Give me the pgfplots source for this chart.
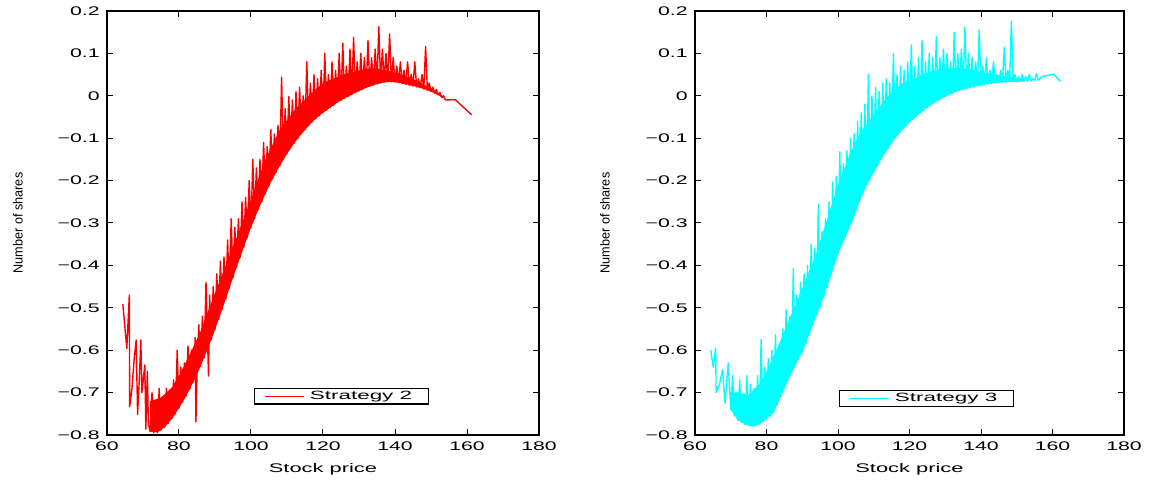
\documentclass[border=0pt]{standalone}
\usepackage{fontspec}
\setmainfont{Liberation Sans}
\usepackage{graphicx}
\usepackage{pgfplots}
\pgfplotsset{compat=1.18}
\definecolor{mred}{RGB}{255,0,0}
\definecolor{mcyan}{RGB}{0,255,255}
\newcommand{\sx}[1]{\scalebox{1.7}[1]{#1}}
\newcommand{\slab}[1]{\scalebox{1.75}[1]{#1}}
\newcommand{\sg}[1]{\scalebox{1.87}[1]{#1}}
\pgfplotsset{
  mystyle/.style={
    scale only axis, anchor=south west,
    height=212pt,
    xmin=60, xmax=180, ymin=-0.8, ymax=0.2,
    xtick={60,80,100,120,140,160,180},
    xticklabels={\sx{60},\sx{80},\sx{100},\sx{120},\sx{140},\sx{160},\sx{180}},
    ytick={-0.8,-0.7,-0.6,-0.5,-0.4,-0.3,-0.2,-0.1,0,0.1,0.2},
    yticklabels={\sx{−0.8},\sx{−0.7},\sx{−0.6},\sx{−0.5},\sx{−0.4},\sx{−0.3},\sx{−0.2},\sx{−0.1},\sx{0},\sx{0.1},\sx{0.2}},
    xtick pos=both, ytick pos=both, tick align=inside,
    major tick length=3pt,
    every tick/.style={black, line width=0.5pt},
    axis line style={line width=0.9pt},
    ticklabel style={font=\fontsize{6.25}{7}\selectfont},
    xticklabel style={inner sep=0pt, yshift=-3.3pt},
    yticklabel style={inner sep=0pt, xshift=-3.5pt},
    xlabel={\slab{Stock price}},
    xlabel style={at={(axis description cs:0.5,-0.08)}, anchor=center, font=\fontsize{6.25}{7}\selectfont},
    ylabel={\scalebox{0.96}[1]{Number of shares}},
    ylabel style={rotate=0, anchor=center, font=\fontsize{6.6}{7.5}\selectfont},
    legend style={at={(axis description cs:0.542,0.091)}, anchor=center, draw=black, line width=0.6pt,
      inner xsep=5pt, inner ysep=0pt, font=\fontsize{6}{7}\selectfont,
      nodes={inner xsep=3pt, inner ysep=1pt}},
    legend image code/.code={\draw[#1, line width=0.4pt] (0pt,0pt) -- (19.5pt,0pt);},
  }
}
\begin{document}
\begin{tikzpicture}
\path[use as bounding box] (0,0) rectangle (576pt,240pt);
\begin{axis}[mystyle, at={(53.5pt,22.5pt)}, width=216pt,
  ylabel style={at={(axis description cs:-0.206,0.5)}}]
\addplot[draw=none, fill=mred, forget plot] coordinates {
(72,-0.792)(74,-0.794)(76,-0.782)(78,-0.762)(80,-0.737)(82,-0.708)(84,-0.675)(86,-0.638)(88,-0.597)(90,-0.552)(92,-0.504)(94,-0.454)(96,-0.405)(98,-0.357)(100,-0.311)(102,-0.269)(104,-0.231)(106,-0.196)(108,-0.165)(110,-0.137)(112,-0.112)(114,-0.090)(116,-0.071)(118,-0.054)(120,-0.040)(122,-0.028)(124,-0.016)(126,-0.006)(128,0.003)(130,0.011)(132,0.019)(134,0.025)(136,0.030)(138,0.033)(140,0.032)(142,0.029)(144,0.025)(146,0.021)(148,0.016)(150,0.010)(152,0.002)(153,-0.004)
(153,0.000)(150,0.018)(145,0.040)(140,0.055)(135,0.065)(130,0.060)(125,0.048)(120,0.030)(116,0.000)(112,-0.035)(108,-0.080)(104,-0.150)(100,-0.245)(96,-0.335)(93,-0.400)(90,-0.465)(86,-0.555)(83,-0.610)(80,-0.660)(78,-0.688)(75,-0.712)(72,-0.720)
};
\addplot[mred, line width=0.7pt, line join=round] coordinates {
(64.4,-0.491)(65.5,-0.596)(66.2,-0.470)(66.3,-0.733)(66.9,-0.694)(67.6,-0.615)(68.1,-0.576)(68.5,-0.751)(69.0,-0.665)(69.4,-0.576)(69.7,-0.700)(70.5,-0.635)(70.8,-0.786)(71.2,-0.650)(71.5,-0.775)(72,-0.792)(72.5,-0.70)(73,-0.795)(73.5,-0.72)(74,-0.794)(74.5,-0.69)(75,-0.789)(75.5,-0.71)(76,-0.782)(76.5,-0.69)(77,-0.773)(77.5,-0.70)(78,-0.762)(78.5,-0.67)(79,-0.750)(79.5,-0.60)(80,-0.737)(80.5,-0.64)(81,-0.723)(81.5,-0.63)(82,-0.708)(82.5,-0.59)(83,-0.692)(83.5,-0.60)(84,-0.675)(84.5,-0.57)(84.7,-0.769)(85,-0.657)(85.5,-0.54)(86,-0.638)(86.5,-0.52)(87,-0.618)(87.5,-0.44)(88,-0.597)(88.2,-0.661)(88.5,-0.47)(89,-0.575)(89.5,-0.45)(90,-0.552)(90.5,-0.42)(91,-0.528)(91.5,-0.39)(92,-0.504)(92.5,-0.38)(93,-0.479)(93.5,-0.34)(94,-0.454)(94.5,-0.29)(95,-0.429)(95.5,-0.31)(96,-0.405)(96.5,-0.29)(97,-0.381)(97.5,-0.25)(98,-0.357)(98.5,-0.24)(99,-0.334)(99.5,-0.20)(100,-0.311)(100.5,-0.15)(101,-0.290)(101.5,-0.17)(102,-0.269)(102.5,-0.15)(103,-0.250)(103.5,-0.11)(104,-0.231)(104.5,-0.12)(105,-0.213)(105.5,-0.08)(106,-0.196)(106.5,-0.09)(107,-0.180)(107.5,-0.07)(108,-0.165)(108.5,0.044)(109,-0.150)(109.5,-0.03)(110,-0.137)(110.5,-0.002)(111,-0.124)(111.5,-0.01)(112,-0.112)(112.5,0.01)(113,-0.101)(113.5,0.02)(114,-0.090)(114.5,0.00)(115,-0.080)(115.5,0.08)(116,-0.071)(116.5,0.03)(117,-0.062)(117.5,0.05)(118,-0.054)(118.5,0.04)(119,-0.047)(119.5,0.06)(120,-0.040)(120.5,0.10)(121,-0.034)(121.5,0.05)(122,-0.028)(122.5,0.08)(123,-0.022)(123.5,0.06)(124,-0.016)(124.5,0.10)(125,-0.011)(125.5,0.124)(126,-0.006)(126.5,0.07)(127,-0.002)(127.5,0.11)(128,0.003)(128.5,0.138)(129,0.007)(129.5,0.08)(130,0.011)(130.5,0.10)(131,0.015)(131.5,0.09)(132,0.019)(132.5,0.13)(133,0.022)(133.5,0.09)(134,0.025)(134.5,0.11)(135,0.028)(135.5,0.163)(136,0.030)(136.5,0.11)(137,0.032)(137.5,0.10)(138,0.033)(138.5,0.146)(139,0.033)(139.5,0.09)(140,0.032)(140.5,0.07)(141,0.031)(141.5,0.08)(142,0.029)(142.5,0.06)(143,0.027)(143.5,0.08)(144,0.025)(144.5,0.05)(145,0.023)(145.5,0.08)(146,0.021)(146.5,0.04)(147,0.019)(147.5,0.05)(148,0.016)(148.5,0.116)(149,0.013)(149.5,0.03)(150,0.010)(150.5,0.02)(151,0.006)(151.5,0.015)(152,0.002)(152.5,0.008)(153,-0.004)(153.5,0.00)(154,-0.010)(156.7,-0.009)(161.3,-0.045)
};
\addlegendentry{\sg{Strategy 2}}
\end{axis}
\begin{axis}[mystyle, at={(347.5pt,22.5pt)}, width=214.5pt,
  ylabel style={at={(axis description cs:-0.210,0.5)}},
  legend style={at={(axis description cs:0.539,0.086)}}]
\addplot[draw=none, fill=mcyan, forget plot] coordinates {
(70,-0.740)(72,-0.765)(74,-0.775)(76,-0.780)(78,-0.775)(80,-0.762)(82,-0.747)(84,-0.710)(86,-0.671)(88,-0.637)(90,-0.605)(92,-0.562)(94,-0.518)(96,-0.475)(98,-0.425)(100,-0.373)(102,-0.335)(104,-0.296)(106,-0.250)(108,-0.211)(110,-0.181)(112,-0.151)(114,-0.124)(116,-0.100)(118,-0.080)(120,-0.063)(122,-0.048)(124,-0.034)(126,-0.022)(128,-0.011)(130,-0.002)(132,0.006)(134,0.013)(136,0.017)(138,0.021)(140,0.025)(142,0.028)(144,0.030)(146,0.032)(148,0.033)(150,0.033)(152,0.034)
(152,0.040)(150,0.042)(145,0.048)(140,0.055)(135,0.065)(130,0.065)(126,0.057)(122,0.043)(118,0.028)(114,0.000)(110,-0.045)(106,-0.090)(103,-0.145)(100,-0.210)(97,-0.290)(94,-0.370)(90,-0.455)(86,-0.535)(83,-0.595)(80,-0.650)(78,-0.680)(75,-0.705)(72,-0.700)(70,-0.700)
};
\addplot[mcyan, line width=0.7pt, line join=round] coordinates {
(64.4,-0.600)(65.1,-0.640)(65.8,-0.595)(65.9,-0.700)(66.8,-0.682)(67.7,-0.646)(68.4,-0.725)(69.3,-0.630)(69.8,-0.710)(70,-0.740)(70.5,-0.66)(71,-0.755)(71.5,-0.70)(72,-0.765)(72.5,-0.67)(73,-0.770)(73.5,-0.71)(74,-0.775)(74.5,-0.66)(75,-0.778)(75.5,-0.68)(76,-0.780)(76.5,-0.69)(77,-0.779)(77.5,-0.66)(78,-0.775)(78.5,-0.575)(79,-0.769)(79.5,-0.64)(80,-0.762)(80.5,-0.62)(81,-0.755)(81.5,-0.60)(82,-0.747)(82.5,-0.564)(83,-0.730)(83.5,-0.59)(84,-0.710)(84.5,-0.55)(85,-0.689)(85.5,-0.505)(86,-0.671)(86.5,-0.52)(87,-0.654)(87.5,-0.407)(88,-0.637)(88.5,-0.47)(89,-0.621)(89.5,-0.44)(90,-0.605)(90.5,-0.42)(91,-0.585)(91.5,-0.40)(92,-0.562)(92.5,-0.35)(93,-0.539)(93.5,-0.36)(94,-0.518)(94.5,-0.256)(95,-0.498)(95.5,-0.32)(96,-0.475)(96.5,-0.29)(97,-0.452)(97.5,-0.25)(98,-0.425)(98.5,-0.203)(99,-0.397)(99.5,-0.19)(100,-0.373)(100.5,-0.132)(101,-0.354)(101.5,-0.16)(102,-0.335)(102.5,-0.13)(103,-0.316)(103.5,-0.10)(104,-0.296)(104.5,-0.09)(105,-0.272)(105.5,-0.06)(106,-0.250)(106.5,-0.04)(107,-0.230)(107.5,-0.02)(108,-0.211)(108.5,0.05)(109,-0.196)(109.5,0.00)(110,-0.181)(110.5,0.02)(111,-0.166)(111.5,0.01)(112,-0.151)(112.5,0.03)(113,-0.136)(113.5,0.04)(114,-0.124)(114.5,0.03)(115,-0.112)(115.5,0.10)(116,-0.100)(116.5,0.05)(117,-0.090)(117.5,0.07)(118,-0.080)(118.5,0.06)(119,-0.071)(119.5,0.08)(120,-0.063)(120.5,0.12)(121,-0.055)(121.5,0.07)(122,-0.048)(122.5,0.09)(123,-0.040)(123.5,0.13)(124,-0.034)(124.5,0.08)(125,-0.028)(125.5,0.10)(126,-0.022)(126.5,0.09)(127,-0.016)(127.5,0.14)(128,-0.011)(128.5,0.09)(129,-0.006)(129.5,0.11)(130,-0.002)(130.5,0.10)(131,0.002)(131.5,0.08)(132,0.006)(132.5,0.15)(133,0.010)(133.5,0.10)(134,0.013)(134.5,0.11)(135,0.015)(135.5,0.162)(136,0.017)(136.5,0.10)(137,0.019)(137.5,0.09)(138,0.021)(138.5,0.08)(139,0.023)(139.5,0.155)(140,0.025)(140.5,0.07)(141,0.026)(141.5,0.09)(142,0.028)(142.5,0.06)(143,0.029)(143.5,0.08)(144,0.030)(144.5,0.05)(145,0.031)(145.5,0.06)(146,0.032)(146.5,0.115)(147,0.032)(147.5,0.06)(148,0.033)(148.5,0.176)(149,0.033)(149.5,0.05)(150,0.033)(150.5,0.045)(151,0.034)(151.5,0.05)(152,0.034)(152.5,0.045)(153,0.034)(153.5,0.05)(154,0.035)(154.5,0.04)(155,0.036)(155.5,0.052)(156,0.037)(157,0.045)(160.3,0.051)(162.2,0.034)
};
\addlegendentry{\sg{Strategy 3}}
\end{axis}
\end{tikzpicture}
\end{document}
